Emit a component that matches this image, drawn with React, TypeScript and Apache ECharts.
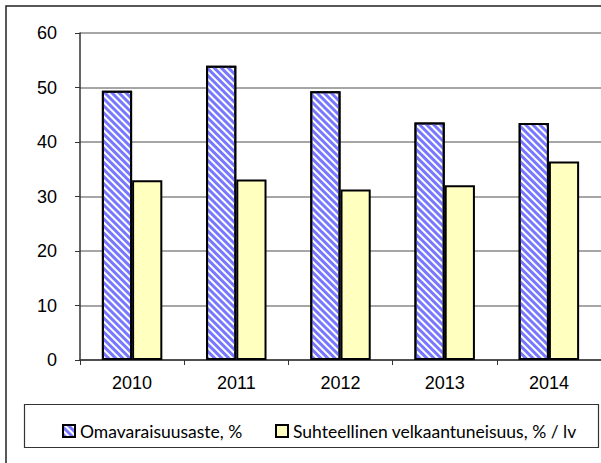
import React, { useEffect, useRef } from "react";
import * as echarts from "echarts";

const categories = ["2010", "2011", "2012", "2013", "2014"];
const omavaraisuusaste = [49.4, 54.0, 49.3, 43.6, 43.5];
const velkaantuneisuus = [33.0, 33.1, 31.3, 32.05, 36.4];
const seriesNames = ["Omavaraisuusaste, %", "Suhteellinen velkaantuneisuus, % / lv"];

export default function App() {
  const ref = useRef<HTMLDivElement>(null);
  useEffect(() => {
    if (!ref.current) return;
    const chart = echarts.init(ref.current, null, { renderer: "svg" });
    const axisFont = { fontFamily: "Arial", fontSize: 18, color: "#000" };
    const legendFont = { fontFamily: "Lato", fontSize: 17.5, color: "#000" };
    chart.setOption({
      animation: false,
      backgroundColor: "#fff",
      grid: { left: 80, top: 33, width: 522, height: 327 },
      xAxis: {
        type: "category",
        data: categories,
        axisLine: { lineStyle: { color: "#333", width: 1.5 } },
        axisTick: { show: true, length: 5, lineStyle: { color: "#333" } },
        axisLabel: { ...axisFont, margin: 14 },
      },
      yAxis: {
        type: "value",
        min: 0,
        max: 60,
        interval: 10,
        axisLine: { show: true, lineStyle: { color: "#333", width: 1.5 } },
        axisTick: { show: true, length: 5, lineStyle: { color: "#333" } },
        axisLabel: { ...axisFont, margin: 23 },
        splitLine: { lineStyle: { color: "#888", width: 1.5 } },
      },
      legend: [
        {
          data: [seriesNames[0]],
          left: 57,
          top: 417,
          icon: "rect",
          itemWidth: 12,
          itemHeight: 12,
          textStyle: legendFont,
          itemStyle: { borderColor: "#000", borderWidth: 2 },
        },
        {
          data: [seriesNames[1]],
          left: 270,
          top: 417,
          icon: "rect",
          itemWidth: 12,
          itemHeight: 12,
          textStyle: legendFont,
          itemStyle: { borderColor: "#000", borderWidth: 2 },
        },
      ],
      graphic: [
        {
          type: "rect",
          shape: { x: 6, y: 6, width: 620, height: 480 },
          style: { fill: "none", stroke: "#222", lineWidth: 1.5 },
          z: 0,
        },
        {
          type: "rect",
          shape: { x: 24.5, y: 404.5, width: 574, height: 43 },
          style: { fill: "none", stroke: "#333", lineWidth: 1.2 },
          z: 0,
        },
      ],
      series: [
        {
          name: seriesNames[0],
          type: "bar",
          data: omavaraisuusaste,
          barGap: "0%",
          barCategoryGap: "42%",
          itemStyle: {
            color: "#ffffff",
            borderColor: "#000",
            borderWidth: 2,
            decal: {
              symbol: "rect",
              symbolSize: 1,
              color: "#7878ff",
              dashArrayX: [[1, 0]],
              dashArrayY: [2.3, 2],
              rotation: Math.PI / 4,
            },
          },
        },
        {
          name: seriesNames[1],
          type: "bar",
          data: velkaantuneisuus,
          itemStyle: { color: "#ffffc0", borderColor: "#000", borderWidth: 2 },
        },
      ],
    });
    return () => chart.dispose();
  }, []);
  return (
    <div
      ref={ref}
      style={{ position: "fixed", left: 0, top: 0, width: 601, height: 463 }}
    />
  );
}
